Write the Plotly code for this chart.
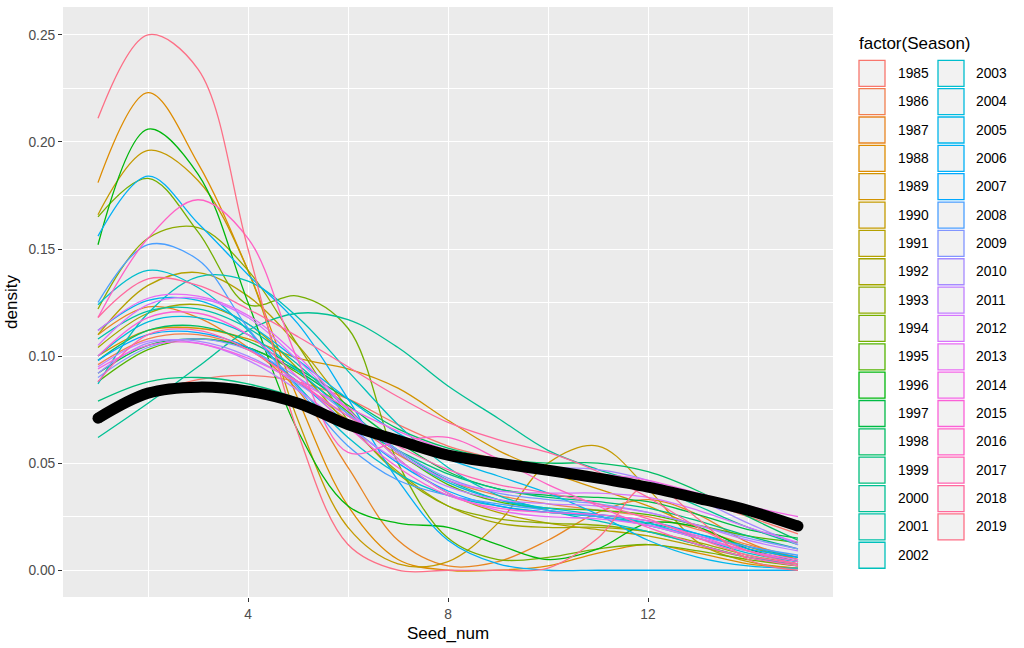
import math
import plotly.graph_objects as go

# x grid the densities were read at
seed_num = [1, 2, 3, 4, 5, 6, 7, 8, 9, 10, 11, 12, 13, 14, 15]

seasons = [1985, 1986, 1987, 1988, 1989, 1990, 1991, 1992, 1993, 1994,
           1995, 1996, 1997, 1998, 1999, 2000, 2001, 2002, 2003, 2004,
           2005, 2006, 2007, 2008, 2009, 2010, 2011, 2012, 2013, 2014,
           2015, 2016, 2017, 2018, 2019]

# density per season at seed_num
d1985 = [0.072, 0.082, 0.089, 0.091, 0.088, 0.080, 0.068, 0.058, 0.052, 0.048, 0.045, 0.040, 0.033, 0.025, 0.017]
d1986 = [0.096, 0.108, 0.110, 0.103, 0.088, 0.070, 0.054, 0.042, 0.035, 0.031, 0.028, 0.025, 0.019, 0.012, 0.006]
d1987 = [0.110, 0.123, 0.118, 0.104, 0.084, 0.048, 0.014, 0.002, 0.004, 0.014, 0.027, 0.033, 0.026, 0.013, 0.005]
d1988 = [0.181, 0.223, 0.190, 0.140, 0.080, 0.030, 0.005, 0.000, 0.000, 0.002, 0.008, 0.012, 0.008, 0.003, 0.001]
d1989 = [0.100, 0.112, 0.113, 0.108, 0.099, 0.094, 0.085, 0.070, 0.056, 0.046, 0.038, 0.030, 0.020, 0.011, 0.005]
d1990 = [0.166, 0.196, 0.182, 0.140, 0.070, 0.020, 0.003, 0.004, 0.022, 0.050, 0.058, 0.038, 0.013, 0.004, 0.001]
d1991 = [0.110, 0.133, 0.139, 0.128, 0.105, 0.076, 0.052, 0.036, 0.027, 0.022, 0.019, 0.016, 0.011, 0.006, 0.003]
d1992 = [0.104, 0.120, 0.124, 0.115, 0.094, 0.068, 0.046, 0.030, 0.022, 0.020, 0.020, 0.018, 0.013, 0.007, 0.003]
d1993 = [0.122, 0.155, 0.160, 0.140, 0.105, 0.070, 0.045, 0.030, 0.024, 0.022, 0.021, 0.018, 0.012, 0.006, 0.002]
d1994 = [0.165, 0.183, 0.158, 0.124, 0.128, 0.113, 0.050, 0.015, 0.005, 0.006, 0.010, 0.012, 0.009, 0.005, 0.002]
d1995 = [0.088, 0.103, 0.108, 0.104, 0.092, 0.074, 0.055, 0.040, 0.032, 0.029, 0.028, 0.026, 0.021, 0.016, 0.013]
d1996 = [0.152, 0.206, 0.185, 0.125, 0.065, 0.030, 0.022, 0.020, 0.012, 0.005, 0.010, 0.022, 0.020, 0.010, 0.004]
d1997 = [0.092, 0.105, 0.108, 0.104, 0.093, 0.077, 0.060, 0.046, 0.038, 0.035, 0.034, 0.032, 0.026, 0.019, 0.015]
d1998 = [0.098, 0.112, 0.114, 0.107, 0.094, 0.080, 0.066, 0.057, 0.052, 0.050, 0.050, 0.046, 0.037, 0.025, 0.014]
d1999 = [0.079, 0.088, 0.090, 0.087, 0.080, 0.068, 0.056, 0.045, 0.038, 0.034, 0.032, 0.029, 0.023, 0.016, 0.010]
d2000 = [0.062, 0.078, 0.095, 0.112, 0.120, 0.117, 0.104, 0.086, 0.071, 0.056, 0.047, 0.040, 0.030, 0.020, 0.012]
d2001 = [0.108, 0.121, 0.122, 0.113, 0.096, 0.075, 0.056, 0.042, 0.033, 0.028, 0.025, 0.022, 0.017, 0.011, 0.006]
d2002 = [0.087, 0.120, 0.137, 0.135, 0.118, 0.093, 0.068, 0.048, 0.035, 0.028, 0.023, 0.018, 0.012, 0.006, 0.003]
d2003 = [0.124, 0.140, 0.132, 0.112, 0.086, 0.062, 0.045, 0.035, 0.030, 0.027, 0.025, 0.021, 0.015, 0.009, 0.004]
d2004 = [0.100, 0.116, 0.118, 0.110, 0.093, 0.073, 0.055, 0.041, 0.033, 0.029, 0.026, 0.022, 0.015, 0.008, 0.004]
d2005 = [0.112, 0.126, 0.126, 0.115, 0.098, 0.080, 0.064, 0.052, 0.044, 0.036, 0.026, 0.014, 0.006, 0.002, 0.001]
d2006 = [0.156, 0.184, 0.162, 0.138, 0.115, 0.080, 0.042, 0.014, 0.003, 0.000, 0.000, 0.000, 0.000, 0.000, 0.000]
d2007 = [0.098, 0.110, 0.111, 0.104, 0.088, 0.068, 0.050, 0.037, 0.030, 0.027, 0.026, 0.023, 0.017, 0.010, 0.006]
d2008 = [0.125, 0.152, 0.145, 0.113, 0.085, 0.058, 0.042, 0.035, 0.031, 0.028, 0.025, 0.021, 0.016, 0.011, 0.007]
d2009 = [0.090, 0.104, 0.108, 0.103, 0.090, 0.073, 0.056, 0.043, 0.036, 0.033, 0.031, 0.027, 0.021, 0.015, 0.010]
d2010 = [0.092, 0.106, 0.107, 0.100, 0.087, 0.072, 0.060, 0.052, 0.049, 0.048, 0.047, 0.042, 0.033, 0.022, 0.012]
d2011 = [0.095, 0.107, 0.106, 0.098, 0.084, 0.067, 0.051, 0.039, 0.033, 0.031, 0.030, 0.027, 0.021, 0.014, 0.009]
d2012 = [0.105, 0.124, 0.127, 0.118, 0.098, 0.075, 0.055, 0.042, 0.037, 0.036, 0.036, 0.034, 0.028, 0.020, 0.013]
d2013 = [0.112, 0.127, 0.128, 0.119, 0.100, 0.075, 0.052, 0.036, 0.028, 0.025, 0.024, 0.021, 0.015, 0.009, 0.005]
d2014 = [0.094, 0.105, 0.106, 0.099, 0.088, 0.076, 0.065, 0.056, 0.050, 0.047, 0.045, 0.042, 0.036, 0.030, 0.025]
d2015 = [0.100, 0.118, 0.120, 0.110, 0.090, 0.067, 0.048, 0.035, 0.029, 0.027, 0.026, 0.023, 0.016, 0.009, 0.004]
d2016 = [0.118, 0.155, 0.173, 0.155, 0.098, 0.055, 0.060, 0.062, 0.052, 0.040, 0.030, 0.020, 0.012, 0.006, 0.002]
d2017 = [0.088, 0.110, 0.112, 0.103, 0.088, 0.072, 0.058, 0.047, 0.040, 0.036, 0.031, 0.024, 0.015, 0.007, 0.003]
d2018 = [0.118, 0.136, 0.133, 0.122, 0.109, 0.095, 0.081, 0.069, 0.061, 0.055, 0.046, 0.034, 0.020, 0.009, 0.003]
d2019 = [0.211, 0.250, 0.234, 0.150, 0.064, 0.012, 0.000, 0.000, 0.000, 0.001, 0.015, 0.040, 0.024, 0.005, 0.000]

# all seasons pooled (thick black line)
overall = [0.071, 0.0827, 0.0855, 0.0836, 0.078, 0.068, 0.0607, 0.0537, 0.050, 0.0467, 0.043, 0.0388, 0.0336, 0.028, 0.0206]

densities = [d1985, d1986, d1987, d1988, d1989, d1990, d1991, d1992, d1993, d1994,
             d1995, d1996, d1997, d1998, d1999, d2000, d2001, d2002, d2003, d2004,
             d2005, d2006, d2007, d2008, d2009, d2010, d2011, d2012, d2013, d2014,
             d2015, d2016, d2017, d2018, d2019]

x_ticks = [4, 8, 12]
x_tick_labels = ["4", "8", "12"]
y_ticks = [0.00, 0.05, 0.10, 0.15, 0.20, 0.25]
y_tick_labels = ["0.00", "0.05", "0.10", "0.15", "0.20", "0.25"]


def hue_colour(h, c=100.0, l=65.0):
    # same as R's hcl(), used by ggplot's default hue palette
    hr = math.radians(h)
    u_, v_ = c * math.cos(hr), c * math.sin(hr)
    xn, yn, zn = 95.047, 100.0, 108.883
    y = yn * ((l + 16) / 116) ** 3
    den = xn + 15 * yn + 3 * zn
    uu = u_ / (13 * l) + 4 * xn / den
    vv = v_ / (13 * l) + 9 * yn / den
    x = 9 * y * uu / (4 * vv)
    z = -x / 3 - 5 * y + 3 * y / vv
    x, y, z = x / 100, y / 100, z / 100
    rgb = [3.240479 * x - 1.537150 * y - 0.498535 * z,
           -0.969256 * x + 1.875992 * y + 0.041556 * z,
           0.055648 * x - 0.204043 * y + 1.057311 * z]
    out = []
    for t in rgb:
        t = 1.055 * t ** (1 / 2.4) - 0.055 if t > 0.00304 else 12.92 * t
        out.append(int(round(min(max(t, 0), 1) * 255)))
    return "#%02X%02X%02X" % tuple(out)


n = len(seasons)
colours = [hue_colour(15 + 360 * i / n) for i in range(n)]

fig = go.Figure()
for season, dens, col in zip(seasons, densities, colours):
    fig.add_trace(go.Scatter(
        x=seed_num, y=dens, mode="lines", name=str(season),
        line=dict(color=col, width=1.3, shape="spline", smoothing=1.0),
        showlegend=False, hoverinfo="name+x+y",
    ))

fig.add_trace(go.Scatter(
    x=seed_num, y=overall, mode="lines", name="all",
    line=dict(color="black", width=11, shape="spline", smoothing=1.0),
    showlegend=False,
))
# round caps for the thick line
fig.add_trace(go.Scatter(
    x=[seed_num[0], seed_num[-1]], y=[overall[0], overall[-1]], mode="markers",
    marker=dict(color="black", size=11), showlegend=False, hoverinfo="skip",
))

# plot area in pixels
L, R, T, B = 63, 833, 7, 597


def px(xp):
    return (xp - L) / (R - L)


def py(yp):
    return (B - yp) / (B - T)


font_main = "Liberation Sans, Arial, Helvetica, sans-serif"

shapes = []
annotations = [dict(
    text="factor(Season)", x=px(857), y=py(43), xref="paper", yref="paper",
    xanchor="left", yanchor="middle", showarrow=False,
    font=dict(size=17, color="black", family=font_main),
)]

rows = 18
for i, (season, col) in enumerate(zip(seasons, colours)):
    c, r = divmod(i, rows)
    box_left = [859, 938][c]
    label_left = [896, 974][c]
    yc = 73.3 + 28.35 * r
    shapes.append(dict(
        type="rect", xref="paper", yref="paper",
        x0=px(box_left), x1=px(box_left + 26), y0=py(yc - 13), y1=py(yc + 13),
        fillcolor="#F2F2F2", line=dict(color=col, width=1.3),
    ))
    annotations.append(dict(
        text=str(season), x=px(label_left), y=py(yc), xref="paper", yref="paper",
        xanchor="left", yanchor="middle", showarrow=False,
        font=dict(size=13.8, color="black", family=font_main),
    ))

fig.update_layout(
    width=1024, height=648,
    margin=dict(l=L, r=1024 - R, t=T, b=648 - B),
    paper_bgcolor="white", plot_bgcolor="#EBEBEB",
    font=dict(family=font_main, color="black"),
    shapes=shapes, annotations=annotations,
    xaxis=dict(
        range=[0.3, 15.7], tickvals=x_ticks, ticktext=x_tick_labels,
        showgrid=True, gridcolor="white", gridwidth=1.3, zeroline=False,
        showline=False, ticks="outside", ticklen=4, tickwidth=1.1, tickcolor="#333333",
        tickfont=dict(size=13.8, color="#4D4D4D"),
        title=dict(text="Seed_num", font=dict(size=17, color="black"), standoff=6),
        minor=dict(tickvals=[2, 6, 10, 14], showgrid=True, gridcolor="white", gridwidth=0.6),
        automargin=False,
    ),
    yaxis=dict(
        range=[-0.0125, 0.263], tickvals=y_ticks, ticktext=y_tick_labels,
        showgrid=True, gridcolor="white", gridwidth=1.3, zeroline=False,
        showline=False, ticks="outside", ticklen=4, tickwidth=1.1, tickcolor="#333333",
        tickfont=dict(size=13.8, color="#4D4D4D"),
        title=dict(text="density", font=dict(size=17, color="black"), standoff=6),
        minor=dict(tickvals=[0.025, 0.075, 0.125, 0.175, 0.225], showgrid=True,
                   gridcolor="white", gridwidth=0.6),
        automargin=False,
    ),
)

# the page's default body margin would push the figure 8px off the window
fig.write_html("out.html", config={"displayModeBar": False},
               post_script="document.body.style.margin='0px';")
